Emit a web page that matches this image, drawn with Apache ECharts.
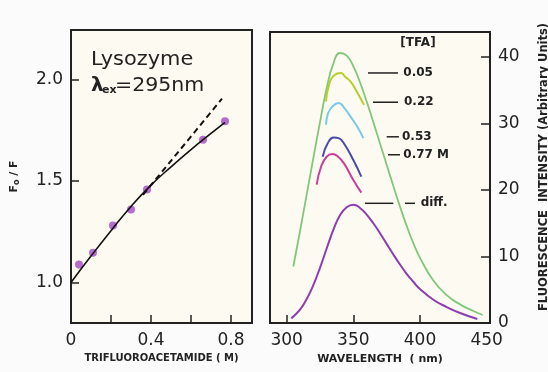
<!DOCTYPE html>
<html><head><meta charset="utf-8">
<script src="https://cdn.jsdelivr.net/npm/echarts@6/dist/echarts.min.js"></script>
<style>html,body{margin:0;padding:0;background:#fbfbfb}#c{width:548px;height:372px}</style>
</head><body><div id="c"></div>
<script>
// ---- Left panel data: Stern-Volmer plot ----
const tfaConc = [0.04, 0.11, 0.21, 0.30, 0.38, 0.66, 0.77];
const f0OverF = [1.089, 1.146, 1.281, 1.36, 1.458, 1.704, 1.795];
const fitConc = [0, 0.1, 0.2, 0.3, 0.4, 0.5, 0.6, 0.7, 0.77];
const fitRatio = [1.0, 1.13, 1.255, 1.375, 1.48, 1.57, 1.655, 1.735, 1.79];
const initConc = [0.36, 0.755];
const initRatio = [1.432, 1.906];
const leftYTicks = [1.0, 1.5, 2.0];
const leftXTicks = [0.2, 0.4, 0.6, 0.8];
const leftXLabels = [0, 0.4, 0.8];

// ---- Right panel data: emission spectra ----
const ctrlWl = [305, 310, 315, 320, 325, 330, 335, 340, 345, 350, 355, 360, 365, 370, 375, 380, 385, 390, 395, 400, 410, 420, 430, 440, 447];
const ctrlInt = [8.5, 13.8, 19.3, 24.8, 30.2, 35.3, 39.0, 40.6, 40.2, 38.6, 36.2, 33.3, 30.2, 27.0, 23.8, 20.6, 17.5, 14.6, 12.0, 9.8, 6.4, 4.2, 2.8, 1.8, 1.2];
const t005Wl = [329.5, 332, 336, 340.5, 344, 348, 354, 358];
const t005Int = [33.3, 36, 37.3, 37.6, 37, 36.3, 34.3, 32.8];
const t022Wl = [329.5, 331, 334, 339, 343, 348, 353, 357.5];
const t022Int = [29.8, 31.5, 32.5, 33.1, 32.4, 31, 29.5, 27.8];
const t053Wl = [327, 330.7, 335.5, 339, 343, 350, 356];
const t053Int = [25, 27, 27.9, 27.8, 27, 24.5, 22];
const t077Wl = [322.5, 325.8, 330, 334.3, 338, 343, 350, 356];
const t077Int = [20.8, 23.5, 25, 25.4, 25.1, 24, 21.5, 19.6];
const diffWl = [303.5, 310, 315, 320, 325, 330, 335, 340, 345, 350, 355, 360, 365, 370, 375, 380, 385, 390, 395, 400, 410, 420, 430, 443];
const diffInt = [0.7, 2.0, 3.6, 5.7, 8.3, 11.2, 14.0, 16.2, 17.4, 17.8, 17.3, 16.3, 15.0, 13.5, 11.9, 10.3, 8.8, 7.4, 6.2, 5.1, 3.5, 2.4, 1.5, 0.6];
const rightXTicks = [300, 350, 400];
const rightXLabels = [300, 350, 400, 450];
const rightYTicks = [10, 20, 30, 40];
const rightYLabels = [0, 10, 20, 30, 40];

// annotation labels (in data units of right panel)
const annLabels = ['0.05', '0.22', '0.53', '0.77 M', 'diff.'];
const annLevel = [37.6, 33.2, 28.0, 25.3, 18.0];

const annGeom = {
  dashStart: [361, 364.75, 375, 376, 358.75],
  dashEnd: [383.5, 383.5, 384.2, 385, 380],
  textAt: [387.5, 388, 386.5, 387.5, 400.5],
  extraDash: [null, null, null, null, [388.75, 396.25]],
  header: {text: '[TFA]', x: 398.5, y: 42.1}
};

const zip = (a, b) => a.map((v, i) => [v, b[i]]);
const FONT = 'DejaVu Sans';
const INK = '#222';

const chart = echarts.init(document.getElementById('c'), null, {renderer: 'canvas'});

const tickStyle = {color: INK, width: 1.5};
const lblStyle = {color: INK, fontSize: 17, fontFamily: FONT};
const spec = (wl, v, color, w) => ({type: 'line', xAxisIndex: 1, yAxisIndex: 1, data: zip(wl, v),
  smooth: true, showSymbol: false, lineStyle: {color: color, width: w}, silent: true});

const option = {
  backgroundColor: '#fbfbfb',
  animation: false,
  grid: [
    {left: 71, top: 30, width: 181, height: 293, show: true, backgroundColor: '#fdfbf1', borderColor: INK, borderWidth: 2},
    {left: 270, top: 32, width: 220, height: 291, show: true, backgroundColor: '#fdfbf1', borderColor: INK, borderWidth: 2}
  ],
  xAxis: [
    {gridIndex: 0, type: 'value', min: 0, max: 0.905,
     axisLine: {show: false}, splitLine: {show: false},
     axisTick: {inside: true, length: 8, customValues: leftXTicks, lineStyle: tickStyle},
     axisLabel: Object.assign({customValues: leftXLabels, margin: 9, formatter: v => v === 0 ? '0' : v.toFixed(1)}, lblStyle),
     name: 'TRIFLUOROACETAMIDE ( M)', nameLocation: 'middle', nameGap: 24,
     nameTextStyle: {fontSize: 10, fontWeight: 'bold', color: INK, fontFamily: FONT}},
    {gridIndex: 1, type: 'value', min: 287.5, max: 452.5,
     axisLine: {show: false}, splitLine: {show: false},
     axisTick: {inside: true, length: 8, customValues: rightXTicks, lineStyle: tickStyle},
     axisLabel: Object.assign({customValues: rightXLabels, margin: 9, formatter: v => String(v)}, lblStyle),
     name: 'WAVELENGTH  ( nm)', nameLocation: 'middle', nameGap: 24,
     nameTextStyle: {fontSize: 11, fontWeight: 'bold', color: INK, fontFamily: FONT}}
  ],
  yAxis: [
    {gridIndex: 0, type: 'value', min: 0.8, max: 2.245,
     axisLine: {show: false}, splitLine: {show: false},
     axisTick: {inside: true, length: 8, customValues: leftYTicks, lineStyle: tickStyle},
     axisLabel: Object.assign({customValues: leftYTicks, margin: 8, formatter: v => v.toFixed(1)}, lblStyle),
     name: '{a|F}{s|o}{a| / F}', nameLocation: 'middle', nameGap: 50, nameRotate: 90,
     nameTextStyle: {rich: {
       a: {fontSize: 11, fontWeight: 'bold', color: INK, fontFamily: FONT},
       s: {fontSize: 8, fontWeight: 'bold', color: INK, fontFamily: FONT, padding: [5, 0, 0, 0]}}}},
    {gridIndex: 1, type: 'value', position: 'right', min: 0, max: 43.76,
     axisLine: {show: false}, splitLine: {show: false},
     axisTick: {inside: true, length: 9, customValues: rightYTicks, lineStyle: tickStyle},
     axisLabel: Object.assign({customValues: rightYLabels, margin: 8, formatter: v => String(v)}, lblStyle)}
  ],
  series: [
    {type: 'line', xAxisIndex: 0, yAxisIndex: 0, data: zip(fitConc, fitRatio), smooth: true, showSymbol: false,
     lineStyle: {color: '#111', width: 1.6}, silent: true},
    {type: 'line', xAxisIndex: 0, yAxisIndex: 0, data: zip(initConc, initRatio), showSymbol: false,
     lineStyle: {color: '#111', width: 2, type: [6, 4]}, silent: true},
    {type: 'scatter', xAxisIndex: 0, yAxisIndex: 0, data: zip(tfaConc, f0OverF), symbolSize: 8,
     itemStyle: {color: '#a448c4'}},
    spec(ctrlWl, ctrlInt, '#80c878', 1.8),
    spec(t005Wl, t005Int, '#b9cc2e', 2),
    spec(t022Wl, t022Int, '#78cbe8', 2),
    spec(t053Wl, t053Int, '#4b4aa8', 2),
    spec(t077Wl, t077Int, '#c93e9c', 2),
    spec(diffWl, diffInt, '#8e3db0', 2)
  ]
};
chart.setOption(option);

// annotations placed via the chart's own coordinate conversion
const px = (x, y) => chart.convertToPixel({xAxisIndex: 1, yAxisIndex: 1}, [x, y]);
const g = [];
const annFont = {fontSize: 12, fontWeight: 'bold', fill: INK, fontFamily: FONT};
annLabels.forEach((lab, i) => {
  const a = px(annGeom.dashStart[i], annLevel[i]);
  const b = px(annGeom.dashEnd[i], annLevel[i]);
  g.push({type: 'line', shape: {x1: a[0], y1: a[1], x2: b[0], y2: b[1]}, style: {stroke: INK, lineWidth: 1.5}, silent: true});
  if (annGeom.extraDash[i]) {
    const c = px(annGeom.extraDash[i][0], annLevel[i]);
    const d = px(annGeom.extraDash[i][1], annLevel[i]);
    g.push({type: 'line', shape: {x1: c[0], y1: c[1], x2: d[0], y2: d[1]}, style: {stroke: INK, lineWidth: 1.5}, silent: true});
  }
  const t = px(annGeom.textAt[i], annLevel[i]);
  g.push({type: 'text', x: t[0], y: t[1], style: Object.assign({text: lab, verticalAlign: 'middle', align: 'left'}, annFont), silent: true});
});
const h = px(annGeom.header.x, annGeom.header.y);
g.push({type: 'text', x: h[0], y: h[1], style: Object.assign({text: annGeom.header.text, verticalAlign: 'middle', align: 'center'}, annFont, {fontSize: 12}), silent: true});

// right axis title (placed as rotated text)
g.push({type: 'text', x: 544, y: 167, rotation: Math.PI / 2,
  style: {text: 'FLUORESCENCE  INTENSITY (Arbitrary Units)', fontSize: 11.5, fontWeight: 'bold', fill: INK, fontFamily: FONT, align: 'center', verticalAlign: 'middle'}, silent: true});

// left panel titles
g.push({type: 'text', x: 91, y: 60, scaleX: 1.1, style: {text: 'Lysozyme', fontSize: 19, fill: INK, fontFamily: FONT, verticalAlign: 'middle'}, silent: true});
g.push({type: 'text', x: 91, y: 86, style: {text: 'λ', fontSize: 20, fill: INK, fontFamily: FONT, verticalAlign: 'middle', fontWeight: 'bold'}, silent: true});
g.push({type: 'text', x: 102, y: 90, style: {text: 'ex', fontSize: 11, fontWeight: 'bold', fill: INK, fontFamily: FONT, verticalAlign: 'middle'}, silent: true});
g.push({type: 'text', x: 115, y: 86, scaleX: 1.08, style: {text: '=295nm', fontSize: 19, fill: INK, fontFamily: FONT, verticalAlign: 'middle'}, silent: true});

chart.setOption({graphic: g});
</script>
</body></html>
